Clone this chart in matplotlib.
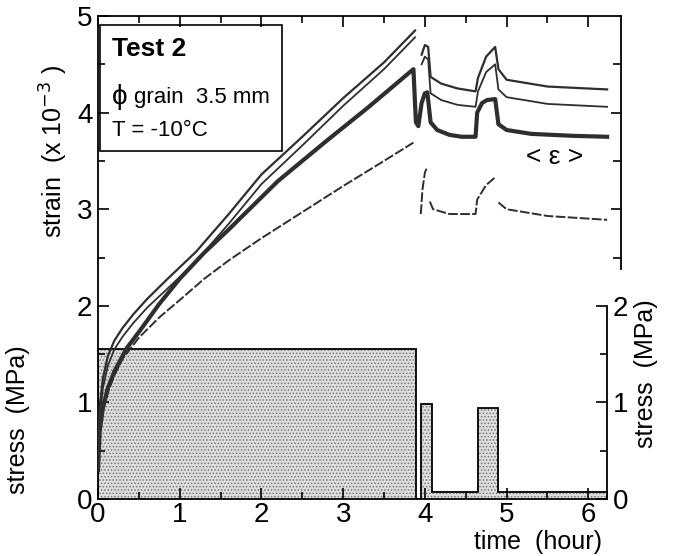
import numpy as np
import matplotlib.pyplot as plt
from matplotlib.ticker import MultipleLocator, FixedLocator, NullFormatter

plt.rcParams['font.family'] = ['Liberation Sans', 'DejaVu Sans']
plt.rcParams['hatch.linewidth'] = 0.7

# time (hour) / strain (x1e-3), NaN = gap in the record
t_upper = [0, 0.02, 0.06, 0.12, 0.2, 0.3, 0.43, 0.6, 0.84, 1.2, 1.6, 2.0, 2.5, 3.0, 3.5, 3.88,
           3.9, 3.96, 4.0, 4.04, 4.07, 4.2, 4.4, 4.62, 4.65, 4.75, 4.86, 4.9, 5.0, 5.5, 6.23]
s_upper = [0.5, 0.95, 1.25, 1.48, 1.64, 1.77, 1.91, 2.07, 2.27, 2.56, 2.95, 3.36, 3.75, 4.15, 4.52, 4.85,
           np.nan, 4.6, 4.7, 4.68, 4.37, 4.3, 4.25, 4.22, 4.36, 4.58, 4.68, 4.45, 4.34, 4.27, 4.24]

t_second = [0, 0.02, 0.06, 0.12, 0.2, 0.3, 0.43, 0.6, 0.84, 1.2, 1.6, 2.0, 2.5, 3.0, 3.5, 3.88,
            3.9, 3.96, 4.0, 4.04, 4.07, 4.2, 4.4, 4.62, 4.65, 4.75, 4.86, 4.9, 5.0, 5.5, 6.23]
s_second = [0.45, 0.85, 1.15, 1.38, 1.55, 1.68, 1.82, 1.98, 2.17, 2.46, 2.85, 3.26, 3.66, 4.07, 4.45, 4.78,
            np.nan, 4.5, 4.58, 4.55, 4.2, 4.13, 4.08, 4.06, 4.22, 4.42, 4.5, 4.24, 4.16, 4.09, 4.06]

t_mean = [0, 0.02, 0.06, 0.12, 0.2, 0.35, 0.51, 0.75, 1.0, 1.3, 1.6, 2.2, 2.8, 3.3, 3.86,
          3.89, 3.92, 3.96, 4.0, 4.03, 4.07, 4.15, 4.3, 4.45, 4.62, 4.64, 4.7, 4.76, 4.86, 4.9,
          5.0, 5.3, 5.8, 6.23]
s_mean = [0.3, 0.7, 0.95, 1.15, 1.32, 1.56, 1.74, 2.02, 2.28, 2.55, 2.79, 3.29, 3.71, 4.05, 4.45,
          3.9, 3.86, 4.1, 4.2, 4.21, 3.9, 3.82, 3.77, 3.75, 3.75, 4.0, 4.1, 4.13, 4.14, 3.88,
          3.82, 3.78, 3.76, 3.75]

t_lower = [0, 0.02, 0.06, 0.12, 0.2, 0.3, 0.5, 0.75, 1.0, 1.3, 1.6, 2.0, 2.5, 3.0, 3.5, 3.86,
           3.9, 3.95, 3.97, 4.0, 4.02, 4.04, 4.06, 4.1, 4.3, 4.62, 4.64, 4.75, 4.86, 4.88,
           4.9, 5.0, 5.5, 6.23]
s_lower = [0.3, 0.65, 0.9, 1.1, 1.28, 1.45, 1.67, 1.88, 2.06, 2.28, 2.47, 2.7, 2.97, 3.24, 3.5, 3.69,
           np.nan, 2.95, 3.2, 3.38, 3.42, np.nan, 3.08, 3.0, 2.95, 2.95, 3.1, 3.25, 3.33, np.nan,
           3.07, 3.0, 2.93, 2.89]

# applied stress (MPa), stepwise
stress_edges = [0, 3.89, 3.95, 4.09, 4.65, 4.90, 6.23]
stress_levels = [1.55, 0.0, 0.98, 0.07, 0.94, 0.07]

ink = '#2e2e2e'

fig = plt.figure(figsize=(6.84, 5.56), dpi=100)
ax = fig.add_axes([0.1433, 0.1025, 0.7646, 0.8687])
ax.set_xlim(0, 6.4)
ax.set_ylim(0, 5)

# stress blocks (dotted screen)
ax.stairs(stress_levels, stress_edges, baseline=0, fill=True,
          facecolor='#dedede', edgecolor='#777777', lw=0, hatch='.....', zorder=1)
ax.stairs(stress_levels, stress_edges, baseline=0, fill=False,
          color='black', lw=1.3, zorder=2)

ax.plot(t_upper, s_upper, color=ink, lw=1.6, zorder=3)
ax.plot(t_second, s_second, color=ink, lw=1.3, zorder=3)
ax.plot(t_mean, s_mean, color=ink, lw=3.0, zorder=4)
ax.plot(t_lower, s_lower, color=ink, lw=1.4, ls=(0, (5, 1.2)), zorder=3)

# main frame
for sp in ax.spines.values():
    sp.set_linewidth(1.3)
ax.spines['right'].set_visible(False)
ax.spines['bottom'].set_bounds(0, 6.23)
ax.xaxis.set_major_locator(FixedLocator([0, 1, 2, 3, 4, 5, 6]))
ax.xaxis.set_minor_locator(FixedLocator([0.5, 1.5, 2.5, 3.5, 4.5, 5.5]))
ax.yaxis.set_major_locator(MultipleLocator(1))
ax.yaxis.set_minor_locator(MultipleLocator(0.5))
ax.tick_params(which='both', direction='in', top=True, right=False, width=1.2)
ax.tick_params(which='major', length=8, labelsize=20, pad=4)
ax.tick_params(axis='x', which='major', pad=2)
ax.tick_params(which='minor', length=5)

# partial right spine of strain frame
ax3 = ax.twinx()
ax3.set_ylim(0, 5)
for k in ['left', 'top', 'bottom']:
    ax3.spines[k].set_visible(False)
ax3.spines['right'].set_bounds(2.38, 5)
ax3.spines['right'].set_linewidth(1.3)
ax3.yaxis.set_major_locator(FixedLocator([3, 4]))
ax3.yaxis.set_minor_locator(FixedLocator([2.5, 3.5, 4.5]))
ax3.yaxis.set_major_formatter(NullFormatter())
ax3.tick_params(which='both', direction='in', width=1.2)
ax3.tick_params(which='major', length=7)
ax3.tick_params(which='minor', length=6)

# stress axis on the right
ax2 = ax.twinx()
ax2.set_ylim(0, 5)
for k in ['left', 'top', 'bottom']:
    ax2.spines[k].set_visible(False)
ax2.spines['right'].set_position(('data', 6.23))
ax2.spines['right'].set_bounds(0, 2)
ax2.spines['right'].set_linewidth(1.3)
ax2.yaxis.set_major_locator(FixedLocator([0, 1, 2]))
ax2.yaxis.set_minor_locator(FixedLocator([0.5, 1.5]))
ax2.tick_params(which='both', direction='in', width=1.2)
ax2.tick_params(which='major', length=8, labelsize=20, pad=4)
ax2.tick_params(which='minor', length=5)

# labels
ax.text(-0.085, 0.72, 'strain  (x 10$^{-3}$ )', transform=ax.transAxes,
        rotation=90, ha='center', va='center', fontsize=18)
ax.text(-0.153, 0.165, 'stress  (MPa)', transform=ax.transAxes,
        rotation=90, ha='center', va='center', fontsize=18)
ax.text(1.048, 0.26, 'stress  (MPa)', transform=ax.transAxes,
        rotation=90, ha='center', va='center', fontsize=18)
ax.text(0.841, -0.088, 'time  (hour)', transform=ax.transAxes,
        ha='center', va='center', fontsize=18)

# info box
ax.add_patch(plt.Rectangle((0.03, 3.6), 2.22, 1.31, fill=False, lw=1.2,
                           edgecolor='black', zorder=5))
ax.text(0.17, 4.66, 'Test 2', fontsize=19, fontweight='bold', va='center', zorder=6)
ax.text(0.17, 4.16, 'ϕ', fontsize=20, va='center', zorder=6)
ax.text(0.44, 4.16, 'grain  3.5 mm', fontsize=16, va='center', zorder=6)
ax.text(0.17, 3.82, 'T = -10°C', fontsize=16, va='center', zorder=6)
ax.text(5.59, 3.54, '< ε >', fontsize=19, ha='center', va='center')

fig.savefig('out.png', dpi=100)
